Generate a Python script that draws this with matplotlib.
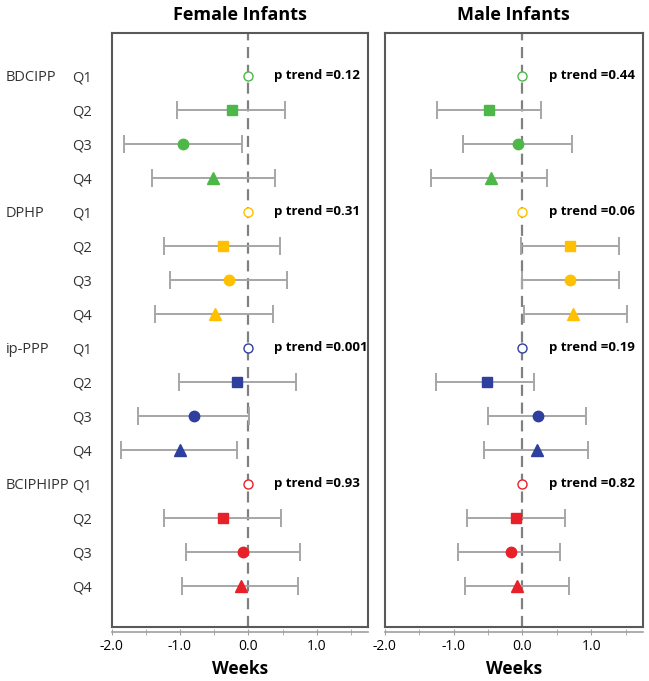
import matplotlib
matplotlib.use("Agg")
import matplotlib.pyplot as plt
from matplotlib.transforms import blended_transform_factory

plt.rcParams['font.family'] = ['Open Sans', 'DejaVu Sans']

groups = ['BDCIPP', 'DPHP', 'ip-PPP', 'BCIPHIPP']
quartiles = ['Q1', 'Q2', 'Q3', 'Q4']
colors = ['#4db848', '#ffc000', '#2e3f9e', '#e8202a']
shapes = ['o', 's', 'o', '^']

# estimates per group, Q1..Q4 (Q1 is the reference = 0)
female_est = [[0, -0.24, -0.96, -0.51],
              [0, -0.37, -0.29, -0.49],
              [0, -0.17, -0.79, -1.00],
              [0, -0.37, -0.08, -0.11]]
female_lo = [[0, -1.04, -1.82, -1.41],
             [0, -1.24, -1.14, -1.36],
             [0, -1.02, -1.62, -1.86],
             [0, -1.24, -0.91, -0.97]]
female_hi = [[0, 0.53, -0.10, 0.39],
             [0, 0.47, 0.56, 0.36],
             [0, 0.69, 0.01, -0.16],
             [0, 0.48, 0.76, 0.73]]
female_p = ['0.12', '0.31', '0.001', '0.93']

male_est = [[0, -0.49, -0.07, -0.46],
            [0, 0.69, 0.69, 0.74],
            [0, -0.52, 0.23, 0.21],
            [0, -0.09, -0.17, -0.08]]
male_lo = [[0, -1.24, -0.86, -1.33],
           [0, -0.02, -0.01, 0.02],
           [0, -1.25, -0.50, -0.56],
           [0, -0.81, -0.93, -0.83]]
male_hi = [[0, 0.27, 0.72, 0.36],
           [0, 1.40, 1.40, 1.52],
           [0, 0.17, 0.93, 0.96],
           [0, 0.62, 0.55, 0.68]]
male_p = ['0.44', '0.06', '0.19', '0.82']

fig = plt.figure(figsize=(6.49, 6.81), dpi=100)
ax1 = fig.add_axes([0.172, 0.0793, 0.395, 0.872])
ax2 = fig.add_axes([0.593, 0.0793, 0.3975, 0.872])

box_col = '#595959'
err_col = '#a6a6a6'
txt_col = '#333333'


def panel(ax, est, lo, hi, pvals, title):
    ax.axvline(0, color='#808080', lw=1.6, ls=(0, (5, 3)), zorder=1)
    for g in range(len(groups)):
        for q in range(len(quartiles)):
            y = g * 4 + q
            e = est[g][q]
            if q == 0:
                ax.plot(e, y, marker='o', ms=6.5, mfc='white', mec=colors[g],
                        mew=1.0, ls='none', zorder=3)
                continue
            ax.errorbar(e, y, xerr=[[e - lo[g][q]], [hi[g][q] - e]], fmt='none',
                        ecolor=err_col, elinewidth=1.4, capsize=6.5, capthick=1.4,
                        zorder=2)
            ms = 7.5 if shapes[q] != '^' else 8
            ax.plot(e, y, marker=shapes[q], ms=ms, color=colors[g], ls='none',
                    zorder=3)
        ax.text(0.38, g * 4, 'p trend =' + pvals[g], fontsize=9.5,
                fontweight='bold', va='center', ha='left')
    ax.set_xlim(-2.0, 1.75)
    ax.set_ylim(16.21, -1.26)
    ax.set_xticks([-2, -1, 0, 1])
    ax.set_xticklabels(['-2.0', '-1.0', '0.0', '1.0'], fontsize=10)
    ax.set_xticks([-1.5, -0.5, 0.5, 1.5], minor=True)
    ax.tick_params(axis='x', which='both', direction='inout', length=4,
                   color='#a0a0a0', pad=3)
    for s in ['left', 'right', 'top']:
        ax.spines[s].set_color(box_col)
        ax.spines[s].set_linewidth(1.5)
    ax.spines['bottom'].set_position(('outward', 3.6))
    ax.spines['bottom'].set_color('#a0a0a0')
    ax.spines['bottom'].set_linewidth(1.2)
    ax.plot([0, 1], [0, 0], transform=ax.transAxes, color=box_col, lw=1.5,
            clip_on=False)
    cx = (ax.get_position().x0 + ax.get_position().x1) / 2
    fig.text(cx, 1 - 15 / 681, title, ha='center', va='center', fontsize=13,
             fontweight='bold')
    fig.text(cx, 1 - 669 / 681, 'Weeks', ha='center', va='center', fontsize=12.5,
             fontweight='bold')


panel(ax1, female_est, female_lo, female_hi, female_p, 'Female Infants')
panel(ax2, male_est, male_lo, male_hi, male_p, 'Male Infants')

ax1.set_yticks(range(16))
ax1.set_yticklabels(quartiles * 4, fontsize=10.5, color=txt_col)
ax1.tick_params(axis='y', length=0, pad=14)
ax2.set_yticks([])

tr = blended_transform_factory(fig.transFigure, ax1.transData)
for g, name in enumerate(groups):
    ax1.text(6 / 649, g * 4, name, transform=tr, fontsize=10.5, ha='left',
             va='center_baseline', color=txt_col)

fig.savefig('out.png', dpi=100)
